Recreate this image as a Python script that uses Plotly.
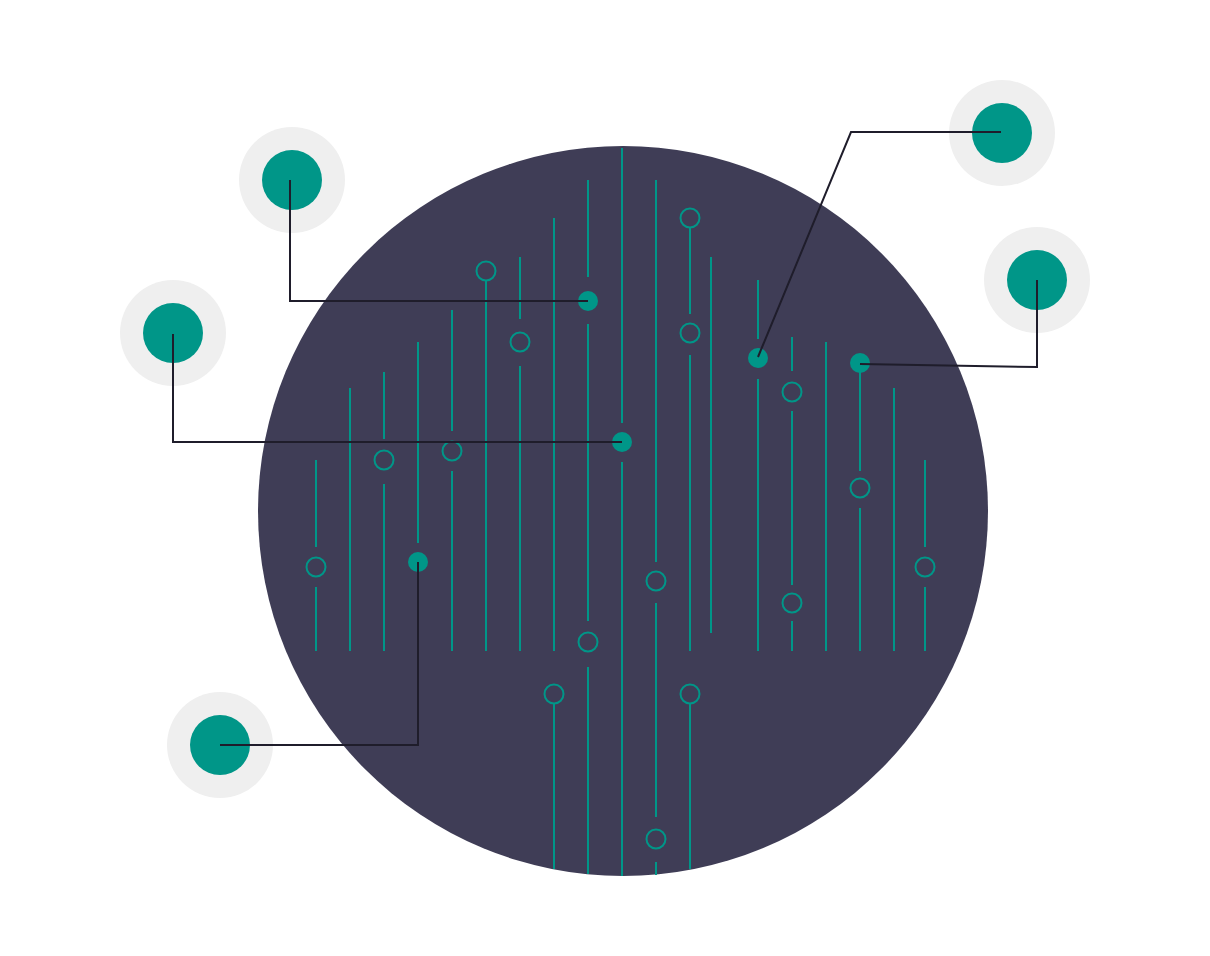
import plotly.graph_objects as go

# canvas is in pixels, y grows downward
W, H = 1210, 956
PAGE_PAD = 8  # browser's default body margin, cancelled through the axis ranges

# big dark disc
disc_center = (623, 511)
disc_radius = 365

# teal circuit traces: (x, y_start, y_end)
trace_segments = [
    (316, 460, 547), (316, 587, 651),
    (350, 388, 651),
    (384, 372, 439), (384, 484, 651),
    (418, 342, 543),
    (452, 310, 431), (452, 471, 651),
    (486, 281, 651),
    (520, 257, 319), (520, 366, 651),
    (554, 218, 651), (554, 704, 869),
    (588, 180, 277), (588, 324, 621), (588, 667, 874),
    (622, 148, 423), (622, 462, 876),
    (656, 180, 562), (656, 603, 817), (656, 862, 875),
    (690, 228, 314), (690, 355, 651), (690, 704, 869),
    (711, 257, 633),
    (758, 280, 339), (758, 379, 651),
    (792, 337, 371), (792, 411, 585), (792, 621, 651),
    (826, 342, 651),
    (860, 363, 471), (860, 508, 651),
    (894, 388, 651),
    (925, 460, 547), (925, 587, 651),
]

# hollow pads on the traces
open_x = [316, 384, 452, 486, 520, 554, 588, 656, 656, 690, 690, 690, 792, 792, 860, 925]
open_y = [567, 460, 451, 271, 342, 694, 642, 581, 839, 218, 333, 694, 392, 603, 488, 567]

# solid pads (where connectors land)
solid_x = [588, 622, 418, 758, 860]
solid_y = [301, 442, 562, 358, 363]

# outer nodes
node_x = [292, 173, 220, 1002, 1037]
node_y = [180, 333, 745, 133, 280]

# connector paths, one per outer node
connectors = [
    ([290, 290, 588], [180, 301, 301]),
    ([173, 173, 622], [334, 442, 442]),
    ([220, 418, 418], [745, 745, 562]),
    ([1001, 851, 758], [132, 132, 357]),
    ([1037, 1037, 860], [280, 367, 364]),
]

TEAL = "#009688"
DARK = "#3f3d56"
GREY = "#efefef"
WIRE = "#1f1d2b"

fig = go.Figure()

cx, cy = disc_center
fig.add_shape(type="circle", xref="x", yref="y", layer="below",
              x0=cx - disc_radius, x1=cx + disc_radius,
              y0=cy - disc_radius, y1=cy + disc_radius,
              fillcolor=DARK, line=dict(width=0))

lx, ly = [], []
for x, y0, y1 in trace_segments:
    lx += [x, x, None]
    ly += [y0, y1, None]
fig.add_trace(go.Scatter(x=lx, y=ly, mode="lines",
                         line=dict(color=TEAL, width=2)))

fig.add_trace(go.Scatter(x=open_x, y=open_y, mode="markers",
                         marker=dict(symbol="circle-open", size=19, color=TEAL,
                                     line=dict(width=2, color=TEAL))))

fig.add_trace(go.Scatter(x=solid_x, y=solid_y, mode="markers",
                         marker=dict(size=20, color=TEAL, line=dict(width=0))))

fig.add_trace(go.Scatter(x=node_x, y=node_y, mode="markers",
                         marker=dict(size=106, color=GREY, line=dict(width=0))))
fig.add_trace(go.Scatter(x=node_x, y=node_y, mode="markers",
                         marker=dict(size=60, color=TEAL, line=dict(width=0))))

for px_, py_ in connectors:
    fig.add_trace(go.Scatter(x=px_, y=py_, mode="lines",
                             line=dict(color=WIRE, width=2)))

fig.update_traces(hoverinfo="skip")
fig.update_layout(
    width=W, height=H,
    margin=dict(l=0, r=0, t=0, b=0),
    paper_bgcolor="white", plot_bgcolor="white",
    showlegend=False,
    xaxis=dict(range=[PAGE_PAD, W + PAGE_PAD], visible=False, fixedrange=True),
    yaxis=dict(range=[H + PAGE_PAD, PAGE_PAD], visible=False, fixedrange=True),
)

fig.write_html("out.html")
